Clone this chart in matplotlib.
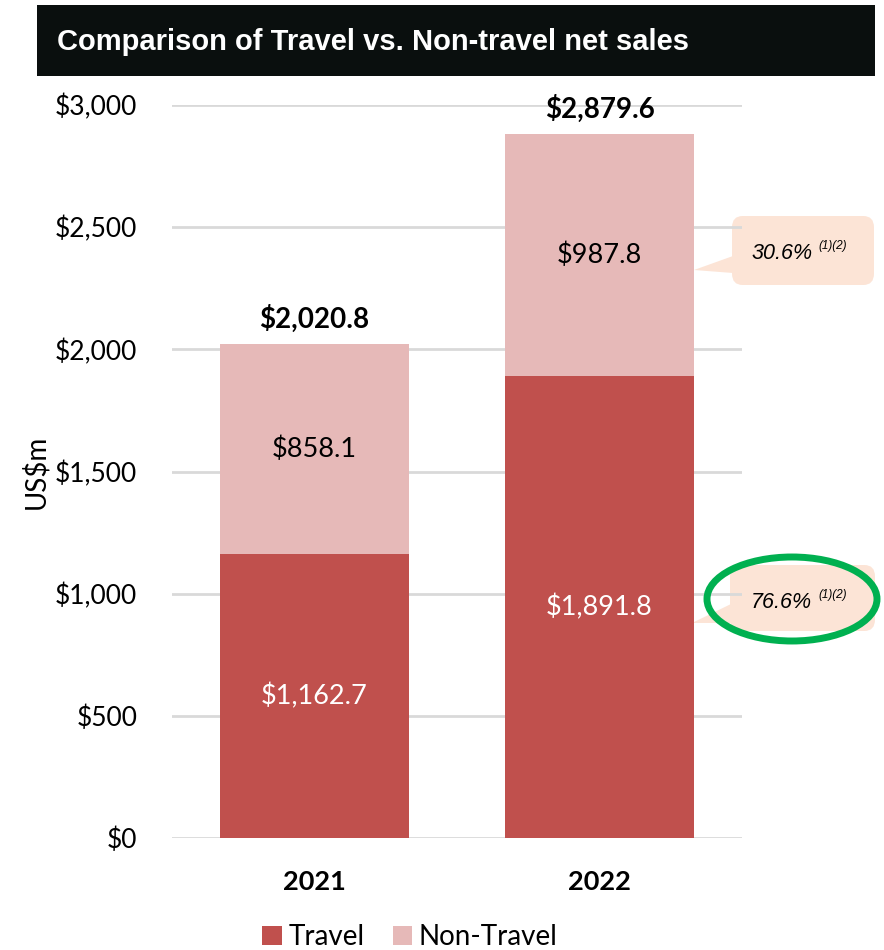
import matplotlib.pyplot as plt
from matplotlib.patches import FancyBboxPatch, Polygon, Ellipse, Rectangle

# --- dades ---
years = ['2021', '2022']
travel = [1162.7, 1891.8]
non_travel = [858.1, 987.8]
totals = [2020.8, 2879.6]
travel_labels = ['$1,162.7', '$1,891.8']
non_travel_labels = ['$858.1', '$987.8']
total_labels = ['$2,020.8', '$2,879.6']
yticks = [0, 500, 1000, 1500, 2000, 2500, 3000]
ytick_labels = ['$0', '$500', '$1,000', '$1,500', '$2,000', '$2,500', '$3,000']
share_labels = ['30.6%', '76.6%']

c_travel = '#c0504d'
c_non = '#e6b9b8'
body_font = 'Lato'

W, H = 884, 950
fig = plt.figure(figsize=(W / 100, H / 100), dpi=100)

def fx(px):
    return px / W

def fy(py):
    return 1 - py / H

# --- barra de títol ---
fig.patches.append(Rectangle((fx(37), fy(76)), fx(875) - fx(37), fy(5) - fy(76),
                             transform=fig.transFigure, facecolor='#0a0f0e',
                             edgecolor='none', zorder=0))
fig.text(fx(57), fy(42), 'Comparison of Travel vs. Non-travel net sales',
         color='white', fontsize=21, fontweight='bold', family='Liberation Sans',
         va='center', ha='left')

# --- eix principal ---
ax = fig.add_axes([fx(172), fy(838), fx(742) - fx(172), fy(105) - fy(838)])
ax.patch.set_alpha(0)
ax.set_zorder(1)
x = [0, 1]
ax.bar(x, travel, width=0.66, color=c_travel, label='Travel', zorder=3)
ax.bar(x, non_travel, width=0.66, bottom=travel, color=c_non, label='Non-Travel', zorder=3)

for i in range(len(x)):
    ax.text(x[i], travel[i] / 2, travel_labels[i], ha='center', va='center',
            color='white', fontsize=19.5, family=body_font)
    ax.text(x[i], travel[i] + non_travel[i] / 2, non_travel_labels[i], ha='center',
            va='center', color='black', fontsize=19.5, family=body_font)
    ax.text(x[i], totals[i] + 105, total_labels[i], ha='center', va='center',
            color='black', fontsize=20, fontweight='bold', family=body_font)

ax.set_xlim(-0.5, 1.5)
ax.set_ylim(0, 3000)
ax.set_yticks(yticks)
ax.set_yticklabels(ytick_labels, family=body_font, fontsize=19)
ax.set_xticks(x)
ax.set_xticklabels(years, family=body_font, fontsize=19.5, fontweight='bold')
ax.tick_params(axis='both', length=0)
ax.tick_params(axis='y', pad=25)
ax.tick_params(axis='x', pad=23)
ax.yaxis.grid(True, color='#d9d9d9', linewidth=2)
ax.set_axisbelow(True)
for s in ax.spines.values():
    s.set_visible(False)
ax.set_ylabel('US$m', family=body_font, fontsize=20)
ax_w = ax.get_position().width
ax.yaxis.set_label_coords((fx(49) - fx(172)) / ax_w, 0.5)

leg = ax.legend(loc='center', bbox_to_anchor=(fx(410), fy(937)), bbox_transform=fig.transFigure,
                ncol=2, frameon=False, prop={'family': body_font, 'size': 20},
                handlelength=0.7, handleheight=0.7, handletextpad=0.25, columnspacing=1.0)

# --- bafarades ---
def callout(box, pts, label, ty):
    x0, y0, x1, y1 = box
    fig.patches.append(FancyBboxPatch((fx(x0), fy(y1)), fx(x1) - fx(x0), fy(y0) - fy(y1),
                                      boxstyle='round,pad=0,rounding_size=0.012',
                                      transform=fig.transFigure, facecolor='#fce4d6',
                                      edgecolor='none', zorder=0))
    fig.patches.append(Polygon([(fx(px), fy(py)) for px, py in pts], closed=True,
                               transform=fig.transFigure, facecolor='#fce4d6',
                               edgecolor='none', zorder=0))
    fig.text(fx(751), fy(ty), label, fontsize=15.5, style='italic',
             family='Liberation Sans', va='center', ha='left', zorder=5)
    fig.text(fx(818), fy(ty - 7), '(1)(2)', fontsize=8.5, style='italic',
             family='Liberation Sans', va='center', ha='left', zorder=5)

callout((732, 216, 874, 285), [(733, 256), (694, 270), (733, 273)], share_labels[0], 253)
callout((730, 565, 875, 631), [(731, 604), (692, 623), (731, 623)], share_labels[1], 602)

fig.patches.append(Ellipse((fx(792), fy(599)), fx(170), 84 / H, transform=fig.transFigure,
                           facecolor='none', edgecolor='#00b050', linewidth=5, zorder=6))

fig.savefig('out.png', dpi=100)
